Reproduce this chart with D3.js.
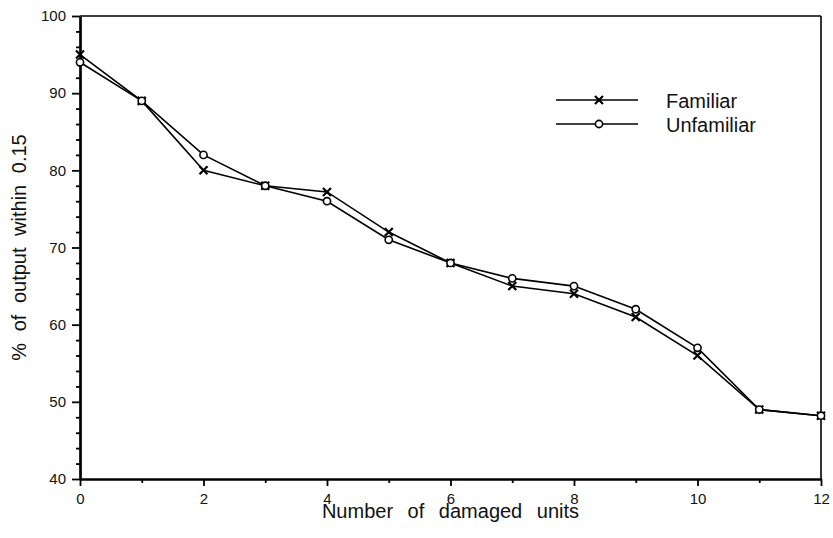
<!DOCTYPE html>
<html>
<head>
<meta charset="utf-8">
<script src="https://cdn.jsdelivr.net/npm/d3@7"></script>
<style>
  body { margin: 0; background: #fff; }
  text { font-family: "Liberation Sans", Arial, sans-serif; fill: #111; }
</style>
</head>
<body>
<svg id="chart"></svg>
<script>
// chart data
const units = [0, 1, 2, 3, 4, 5, 6, 7, 8, 9, 10, 11, 12];
const familiar = [95, 89, 80, 78, 77.2, 72, 68, 65, 64, 61, 56, 49, 48.2];
const unfamiliar = [94, 89, 82, 78, 76, 71, 68, 66, 65, 62, 57, 49, 48.2];
const xTicks = [0, 2, 4, 6, 8, 10, 12];
const yTicks = [40, 50, 60, 70, 80, 90, 100];
const seriesNames = ["Familiar", "Unfamiliar"];

const width = 833;
const height = 538;
const margin = { top: 16, right: 12, bottom: 59, left: 80 };

const svg = d3.select("#chart")
    .attr("width", width)
    .attr("height", height);

const x = d3.scaleLinear().domain([0, 12]).range([margin.left, width - margin.right]);
const y = d3.scaleLinear().domain([40, 100]).range([height - margin.bottom, margin.top]);

// frame: thin top/right, thick left/bottom
svg.append("line")
    .attr("x1", x(0)).attr("x2", x(12))
    .attr("y1", y(100)).attr("y2", y(100))
    .style("stroke", "#000").style("stroke-width", 1.6);
svg.append("line")
    .attr("x1", x(12)).attr("x2", x(12))
    .attr("y1", y(100)).attr("y2", y(40))
    .style("stroke", "#000").style("stroke-width", 1.6);

// x axis with minor ticks at odd units
const xAxis = svg.append("g")
    .attr("transform", `translate(0,${y(40)})`)
    .call(d3.axisBottom(x).tickValues(units).tickSize(7).tickSizeOuter(0)
        .tickFormat(d => xTicks.includes(d) ? d : ""));
xAxis.selectAll(".tick line")
    .attr("y2", d => xTicks.includes(d) ? 7 : 4)
    .style("stroke-width", 1.8);
xAxis.select(".domain").style("stroke-width", 2.7);
xAxis.selectAll(".tick text")
    .attr("y", 14)
    .style("font-size", "15px")
    .style("font-family", "Liberation Sans, Arial, sans-serif");

// y axis with minor ticks every 2
const yMinor = d3.range(40, 101, 2);
const yAxis = svg.append("g")
    .attr("transform", `translate(${x(0)},0)`)
    .call(d3.axisLeft(y).tickValues(yMinor).tickSize(8).tickSizeOuter(0)
        .tickFormat(d => yTicks.includes(d) ? d : ""));
yAxis.selectAll(".tick line")
    .attr("x2", d => yTicks.includes(d) ? -8 : -4)
    .style("stroke-width", 1.8);
yAxis.select(".domain").style("stroke-width", 2.7);
yAxis.selectAll(".tick text")
    .attr("x", -14)
    .style("font-size", "15px")
    .style("font-family", "Liberation Sans, Arial, sans-serif");

// axis titles
svg.append("text")
    .attr("x", (x(0) + x(12)) / 2)
    .attr("y", 518)
    .attr("text-anchor", "middle")
    .style("font-size", "20px")
    .style("word-spacing", "9px")
    .text("Number of damaged units");

svg.append("text")
    .attr("transform", `translate(26,${(y(40) + y(100)) / 2}) rotate(-90)`)
    .attr("text-anchor", "middle")
    .style("font-size", "20px")
    .style("word-spacing", "6px")
    .text("% of output within 0.15");

// lines
const line = d3.line()
    .x((d, i) => x(units[i]))
    .y(d => y(d));

[familiar, unfamiliar].forEach(vals => {
    svg.append("path")
        .datum(vals)
        .attr("d", line)
        .style("fill", "none")
        .style("stroke", "#000")
        .style("stroke-width", 1.6);
});

function crossMark(g, cx, cy) {
    const s = 4;
    g.append("path")
        .attr("d", `M${cx - s},${cy - s}L${cx + s},${cy + s}M${cx - s},${cy + s}L${cx + s},${cy - s}`)
        .style("stroke", "#000")
        .style("stroke-width", 2.2);
}

function circleMark(g, cx, cy) {
    g.append("circle")
        .attr("cx", cx).attr("cy", cy).attr("r", 3.6)
        .style("fill", "#fff")
        .style("stroke", "#000")
        .style("stroke-width", 1.6);
}

const marks = svg.append("g");
familiar.forEach((v, i) => crossMark(marks, x(units[i]), y(v)));
unfamiliar.forEach((v, i) => circleMark(marks, x(units[i]), y(v)));

// legend
const legend = svg.append("g");
seriesNames.forEach((name, i) => {
    const ly = 100 + i * 24;
    legend.append("line")
        .attr("x1", 556).attr("x2", 638)
        .attr("y1", ly).attr("y2", ly)
        .style("stroke", "#000").style("stroke-width", 1.6);
    if (i === 0) crossMark(legend, 599, ly);
    else circleMark(legend, 599, ly);
    legend.append("text")
        .attr("x", 666)
        .attr("y", ly + 8)
        .style("font-size", "20px")
        .text(name);
});
</script>
</body>
</html>
